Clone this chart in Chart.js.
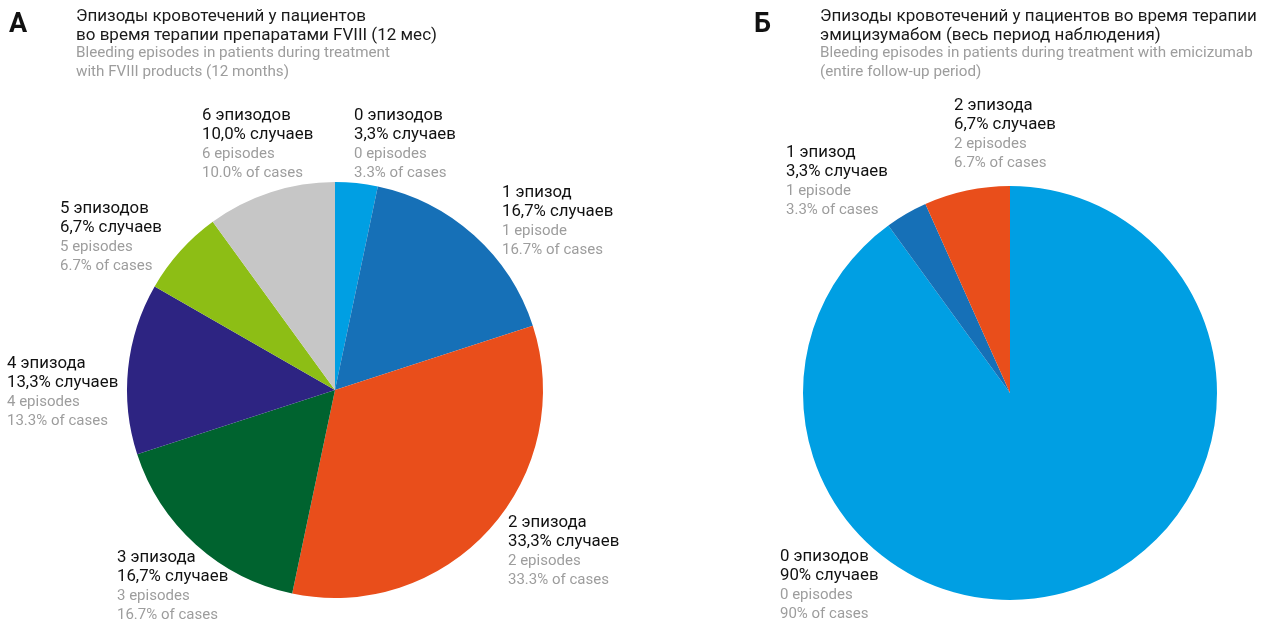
<!DOCTYPE html>
<html>
<head>
<meta charset="utf-8">
<script src="https://cdn.jsdelivr.net/npm/chart.js@4/dist/chart.umd.min.js"></script>
<style>
  html, body { margin: 0; padding: 0; background: #fff; }
  body { width: 1264px; height: 623px; position: relative; overflow: hidden;
         font-family: Roboto, "Noto Sans", sans-serif; }
  .panel { position: absolute; top: 0; width: 632px; height: 623px; }
  .panel canvas { position: absolute; left: 0; top: 0; }
  .letter { position: absolute; font-weight: bold; font-size: 27px; color: #111; top: 7px; }
  .title { position: absolute; top: 6px; font-size: 17px; line-height: 18.5px; color: #1a1a1a; }
  .sub { color: #9d9d9d; font-size: 15.2px; line-height: 19px; }
</style>
</head>
<body>
<div class="panel" style="left:0">
  <canvas id="chartA" width="632" height="623"></canvas>
  <div class="letter" style="left:9px">А</div>
  <div class="title" style="left:76px">Эпизоды кровотечений у пациентов<br>во время терапии препаратами FVIII (12 мес)
    <div class="sub">Bleeding episodes in patients during treatment<br>with FVIII products (12 months)</div></div>
</div>
<div class="panel" style="left:632px">
  <canvas id="chartB" width="632" height="623"></canvas>
  <div class="letter" style="left:122px">Б</div>
  <div class="title" style="left:188px">Эпизоды кровотечений у пациентов во время терапии<br>эмицизумабом (весь период наблюдения)
    <div class="sub">Bleeding episodes in patients during treatment with emicizumab<br>(entire follow-up period)</div></div>
</div>
<script>
// Categories: number of bleeding episodes
const categoriesRuA = ['0 эпизодов', '1 эпизод', '2 эпизода', '3 эпизода', '4 эпизода', '5 эпизодов', '6 эпизодов'];
const categoriesEnA = ['0 episodes', '1 episode', '2 episodes', '3 episodes', '4 episodes', '5 episodes', '6 episodes'];
// Share of cases, %, FVIII therapy (12 months)
const valuesA = [3.3, 16.7, 33.3, 16.7, 13.3, 6.7, 10.0];

const categoriesRuB = ['0 эпизодов', '1 эпизод', '2 эпизода'];
const categoriesEnB = ['0 episodes', '1 episode', '2 episodes'];
// Share of cases, %, emicizumab therapy (entire follow-up)
const valuesB = [90, 3.3, 6.7];

const colorsA = ['#009fe3', '#1670b7', '#e94e1b', '#00632f', '#2d2482', '#8dbe15', '#c6c6c6'];
const colorsB = ['#009fe3', '#1670b7', '#e94e1b'];

// Left edge / first-line centre of each slice's label block (canvas px)
const labelPosA = [[354, 116], [502, 193], [508, 523], [117, 558], [7, 364], [60, 209], [202, 116]];
const labelPosB = [[148, 557], [154, 153], [322, 106]];

function fmtFixed(v) { return v.toFixed(1).replace('.', ','); }
function fmtTrim(v) { return (Number.isInteger(v) ? String(v) : v.toFixed(1)).replace('.', ','); }

const sliceLabels = {
  id: 'sliceLabels',
  afterDraw(chart, args, opts) {
    const ctx = chart.ctx;
    const vals = chart.data.datasets[0].data;
    ctx.save();
    ctx.textAlign = 'left';
    ctx.textBaseline = 'middle';
    vals.forEach((v, i) => {
      const [x, y] = opts.pos[i];
      const pctRu = opts.fmt(v);
      const pctEn = pctRu.replace(',', '.');
      ctx.fillStyle = '#111';
      ctx.font = '16.8px Roboto, "Noto Sans", sans-serif';
      ctx.fillText(opts.ru[i], x, y);
      ctx.fillText(pctRu + '% случаев', x, y + 19);
      ctx.fillStyle = '#9d9d9d';
      ctx.font = '15px Roboto, "Noto Sans", sans-serif';
      ctx.fillText(opts.en[i], x, y + 38.5);
      ctx.fillText(pctEn + '% of cases', x, y + 57);
    });
    ctx.restore();
  }
};

function makePie(id, values, ru, en, colors, pos, fmt, padding) {
  return new Chart(document.getElementById(id), {
    type: 'pie',
    data: {
      labels: ru,
      datasets: [{ data: values, backgroundColor: colors, borderWidth: 0 }]
    },
    options: {
      responsive: false,
      animation: false,
      layout: { padding },
      plugins: {
        legend: { display: false },
        tooltip: { enabled: false },
        sliceLabels: { pos, ru, en, fmt }
      }
    },
    plugins: [sliceLabels]
  });
}

makePie('chartA', valuesA, categoriesRuA, categoriesEnA, colorsA, labelPosA, fmtFixed,
        { left: 127, right: 89, top: 182, bottom: 25 });
makePie('chartB', valuesB, categoriesRuB, categoriesEnB, colorsB, labelPosB, fmtTrim,
        { left: 171, right: 47, top: 186, bottom: 23 });
</script>
</body>
</html>
